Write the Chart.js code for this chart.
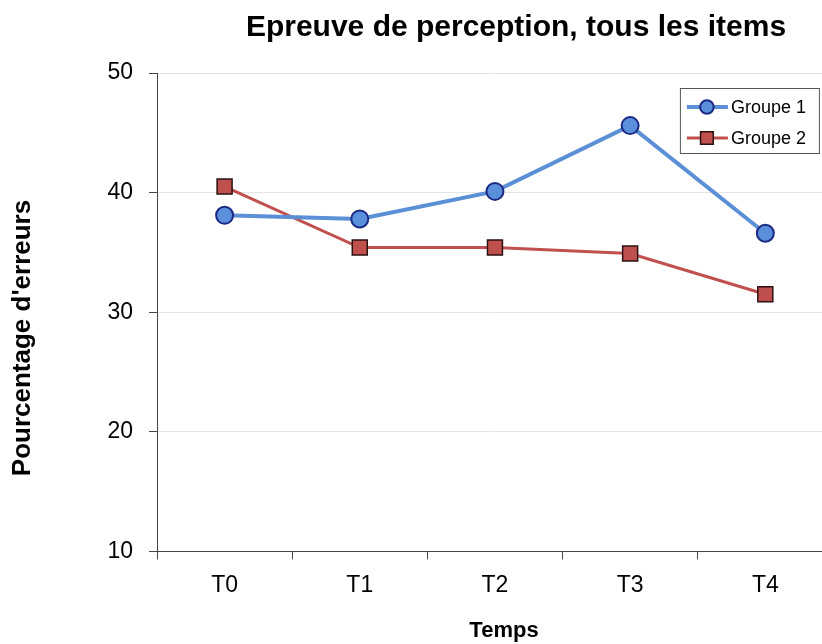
<!DOCTYPE html>
<html>
<head>
<meta charset="utf-8">
<script src="https://cdn.jsdelivr.net/npm/chart.js@4.4.1/dist/chart.umd.min.js"></script>
<style>
  html, body { margin: 0; padding: 0; overflow: hidden; background: #fff; }
  #chart { display: block; }
</style>
</head>
<body>
<canvas id="chart" width="845" height="644"></canvas>
<script>
const categories = ['T0', 'T1', 'T2', 'T3', 'T4'];
const groupe1 = [38.1, 37.8, 40.1, 45.6, 36.6];
const groupe2 = [40.5, 35.4, 35.4, 34.9, 31.5];
const yTicks = [10, 20, 30, 40, 50];

const titleText = 'Epreuve de perception, tous les items';
const yTitleText = "Pourcentage d'erreurs";
const xTitleText = 'Temps';

const FONT = 'Arial, "Liberation Sans", sans-serif';

// titles and boxed legend drawn by hand (Excel-like placement)
const excelDecor = {
    id: 'excelDecor',
    afterDraw(chart) {
        const ctx = chart.ctx;
        const area = chart.chartArea;
        ctx.save();
        ctx.fillStyle = '#000';
        ctx.textBaseline = 'alphabetic';
        ctx.textAlign = 'center';
        ctx.font = 'bold 30px ' + FONT;
        ctx.fillText(titleText, area.left + 359, 36);

        ctx.font = 'bold 22px ' + FONT;
        ctx.fillText(xTitleText, area.left + 347, 637);

        ctx.translate(30, area.top + 265);
        ctx.rotate(-Math.PI / 2);
        ctx.font = 'bold 26px ' + FONT;
        ctx.fillText(yTitleText, 0, 0);
        ctx.restore();

        // legend
        const bx = area.right - 153, by = area.top + 15, bw = 139, bh = 65;
        ctx.save();
        ctx.fillStyle = '#fff';
        ctx.fillRect(bx, by, bw, bh);
        ctx.strokeStyle = '#555';
        ctx.lineWidth = 1;
        ctx.strokeRect(bx + 0.5, by + 0.5, bw, bh);
        chart.data.datasets.forEach((ds, i) => {
            const cy = by + 19 + i * 31;
            ctx.strokeStyle = ds.borderColor;
            ctx.lineWidth = ds.borderWidth;
            ctx.beginPath();
            ctx.moveTo(bx + 7, cy);
            ctx.lineTo(bx + 48, cy);
            ctx.stroke();
            ctx.fillStyle = ds.pointBackgroundColor;
            ctx.strokeStyle = ds.pointBorderColor;
            ctx.lineWidth = ds.pointBorderWidth;
            ctx.beginPath();
            if (ds.pointStyle === 'circle') {
                ctx.arc(bx + 27, cy, ds.pointRadius * 0.8, 0, Math.PI * 2);
            } else {
                const s = ds.pointRadius * 0.6;
                ctx.rect(bx + 27 - s, cy - s, 2 * s, 2 * s);
            }
            ctx.fill();
            ctx.stroke();
            ctx.fillStyle = '#000';
            ctx.font = '18px ' + FONT;
            ctx.textAlign = 'left';
            ctx.textBaseline = 'middle';
            ctx.fillText(ds.label, bx + 51, cy + 1);
        });
        ctx.restore();
    }
};

const data = {
    labels: categories,
    datasets: [
        {
            label: 'Groupe 1',
            data: groupe1,
            borderColor: '#5b8fd6',
            borderWidth: 4,
            pointStyle: 'circle',
            pointRadius: 8.5,
            pointBackgroundColor: '#5a8fdb',
            pointBorderColor: '#1c2a85',
            pointBorderWidth: 2,
            tension: 0,
        },
        {
            label: 'Groupe 2',
            data: groupe2,
            borderColor: '#c0504d',
            borderWidth: 3,
            pointStyle: 'rect',
            pointRadius: 10.6,
            pointBackgroundColor: '#c0504d',
            pointBorderColor: '#2b1111',
            pointBorderWidth: 1.5,
            tension: 0,
        }
    ]
};

const options = {
    responsive: false,
    animation: false,
    layout: {
        padding: { left: 0, right: 0, top: 73, bottom: 33 }
    },
    plugins: {
        legend: { display: false },
        title: { display: false },
        tooltip: { enabled: false },
    },
    scales: {
        x: {
            offset: true,
            grid: {
                offset: true,
                drawOnChartArea: false,
                drawTicks: true,
                tickLength: 8,
                tickColor: '#444',
            },
            border: { display: true, color: '#444', width: 1 },
            ticks: {
                color: '#000',
                padding: 12,
                font: { family: FONT, size: 23 },
            },
        },
        y: {
            min: 10,
            max: 50,
            afterFit(scale) { scale.width = 157; },
            afterBuildTicks(scale) { scale.ticks = yTicks.map(v => ({ value: v })); },
            grid: {
                color: '#e4e4e4',
                drawTicks: true,
                tickLength: 8,
                tickColor: '#444',
            },
            border: { display: true, color: '#444', width: 1 },
            ticks: {
                color: '#000',
                padding: 16,
                font: { family: FONT, size: 23 },
            }
        }
    }
};

new Chart(document.getElementById('chart'), {
    type: 'line',
    data: data,
    options: options,
    plugins: [excelDecor],
});
</script>
</body>
</html>
